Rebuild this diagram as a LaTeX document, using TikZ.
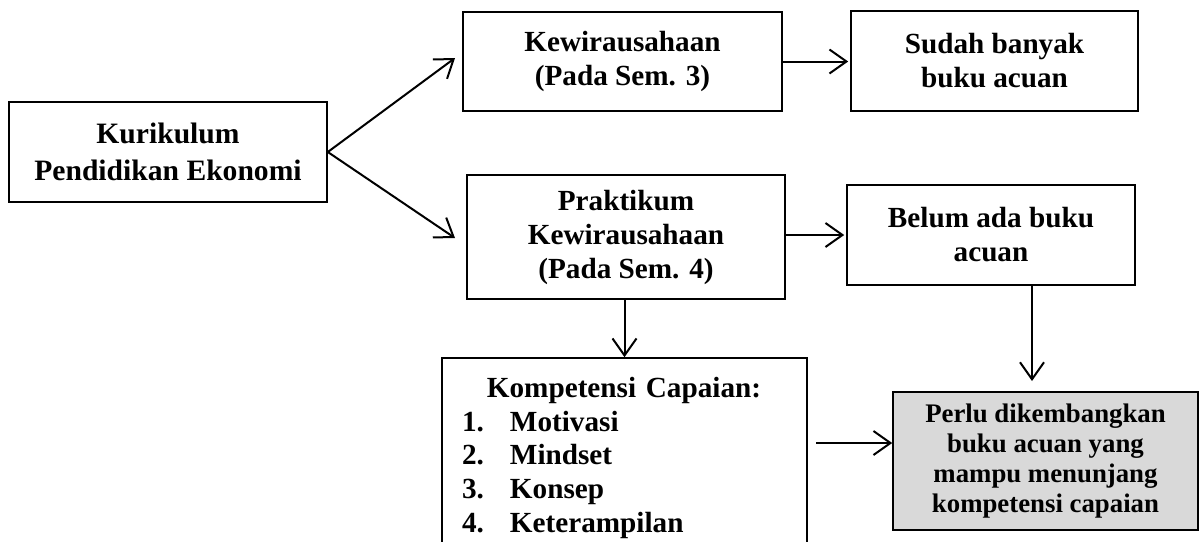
\documentclass[tikz,border=0pt]{standalone}
\usepackage{fontspec}
\setmainfont{Liberation Serif}
\usetikzlibrary{arrows.meta}

\begin{document}
\begin{tikzpicture}[x=0.5pt,y=-0.5pt,
  box/.style={draw, line width=0.8pt, align=center, inner sep=0pt,
    font=\fontsize{14.6}{17}\selectfont\bfseries},
  arr/.style={-{Straight Barb[length=8.5pt,width=12pt]}, line width=1pt}]
  \clip (0,0) rectangle (1204,541);

  \node[box, minimum width=159pt, minimum height=50pt,
    font=\fontsize{14.8}{18.5}\selectfont\bfseries] (kur) at (168,152)
    {Kurikulum\\Pendidikan Ekonomi};
  \node[box, minimum width=159.5pt, minimum height=49.5pt] (kew) at (622.5,61.5)
    {Kewirausahaan\\(Pada Sem. 3)};
  \node[box, minimum width=143.5pt, minimum height=50pt] (sudah) at (994.5,61)
    {Sudah banyak\\buku acuan};
  \node[box, minimum width=159pt, minimum height=62pt] (prak) at (626,237)
    {Praktikum\\Kewirausahaan\\(Pada Sem. 4)};
  \node[box, minimum width=144pt, minimum height=50pt] (belum) at (991,235)
    {Belum ada buku\\acuan};
  \node[box, minimum width=182.5pt, minimum height=121pt] (komp) at (624.5,479) {};
  \node[align=left, inner sep=0pt, anchor=north, text width=162pt,
    font=\fontsize{14.6}{16.8}\selectfont\bfseries] (kompText) at (624,377)
    {\makebox[162pt][c]{Kompetensi Capaian:}\\
     \makebox[24pt][l]{1.}Motivasi\\
     \makebox[24pt][l]{2.}Mindset\\
     \makebox[24pt][l]{3.}Konsep\\
     \makebox[24pt][l]{4.}Keterampilan};
  \node[box, fill=black!15, minimum width=152.5pt, minimum height=69pt,
    font=\fontsize{13.4}{15}\selectfont\bfseries] (perlu) at (1045.5,461)
    {Perlu dikembangkan\\buku acuan yang\\mampu menunjang\\kompetensi capaian};

  \coordinate (kewIn) at (455,58);
  \coordinate (prakIn) at (455,238);
  \coordinate (perluIn) at (1032,381);
  \coordinate (kompOut) at (816,443);

  \draw[arr] (kur.east) -- (kewIn);
  \draw[arr] (kur.east) -- (prakIn);
  \draw[arr, shorten >=1pt] (kew.east) -- (kew.east -| sudah.west);
  \draw[arr, shorten >=1pt] (prak.east |- belum.west) -- (belum.west);
  \draw[arr] (prak.south -| komp.north) -- (komp.north);
  \draw[arr] (belum.south -| perluIn) -- (perluIn);
  \draw[arr] (kompOut) -- (perlu.west |- kompOut);
\end{tikzpicture}
\end{document}
